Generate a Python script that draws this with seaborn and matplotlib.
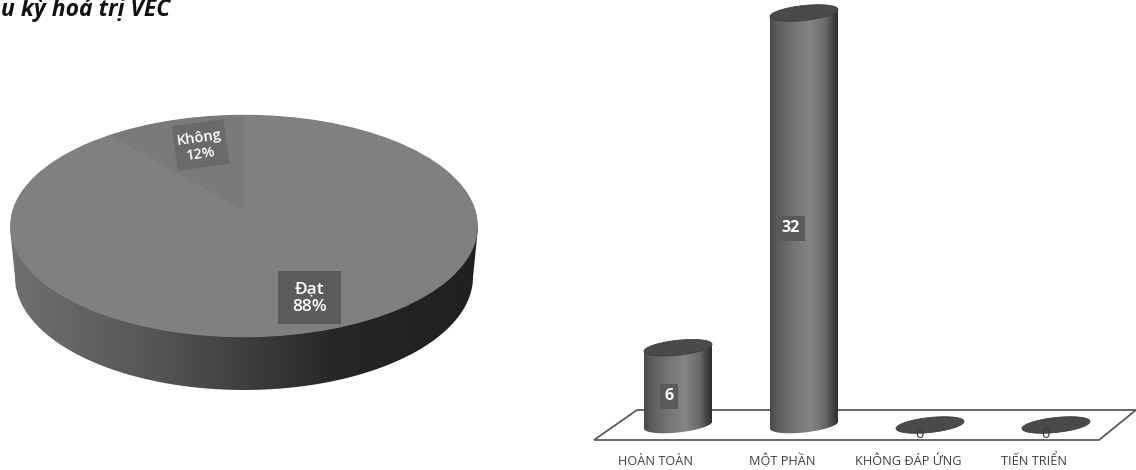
import numpy as np
import pandas as pd
import matplotlib
matplotlib.use("Agg")
import matplotlib.pyplot as plt
from matplotlib.colors import LinearSegmentedColormap
from matplotlib.patches import Polygon, Rectangle
from matplotlib.transforms import Affine2D, ScaledTranslation
import seaborn as sns

# Share of patients reaching the target
pie_labels = ["Đạt", "Không"]
pie_values = [88, 12]

# Response counts
response_labels = ["HOÀN TOÀN", "MỘT PHẦN", "KHÔNG ĐÁP ỨNG", "TIẾN TRIỂN"]
response_counts = [6, 32, 0, 0]

heading = "u kỳ hoá trị VEC"

W, H = 1136, 470
sns.set_theme(style="white")
plt.rcParams["font.family"] = ["Open Sans", "Noto Sans", "DejaVu Sans"]

fig = plt.figure(figsize=(W / 100, H / 100), dpi=100, facecolor="white")

# Full-figure pixel canvas for the heading and the floor plate
canvas = fig.add_axes([0, 0, 1, 1], zorder=0)
canvas.set_xlim(0, W)
canvas.set_ylim(H, 0)
canvas.axis("off")
canvas.text(1, 16.5, heading, fontsize=16.5, fontweight="bold", fontstyle="italic",
            color="#111111", ha="left", va="baseline")

floor = Polygon([(594, 440), (1099, 440), (1136, 410), (637, 410)], closed=True,
                facecolor="white", edgecolor="#5a5a5a", lw=1.3, clip_on=False)
canvas.add_patch(floor)


def axes_from_pixels(left, top, right, bottom, z):
    return fig.add_axes([left / W, 1 - bottom / H, (right - left) / W, (bottom - top) / H], zorder=z)


# ---- Pie drum -----------------------------------------------------------
wall_cmap = LinearSegmentedColormap.from_list(
    "wall", [(0, "#707072"), (0.3, "#565658"), (0.52, "#3c3c3e"), (0.7, "#262628"), (1, "#202022")])
t = np.linspace(0, np.pi, 200)
wall_pts = [(10, 228)] + [(244 - 229 * np.cos(a), 277 + 113 * np.sin(a)) for a in t] + [(478, 228)]
wall = Polygon(wall_pts, closed=True, facecolor="none", edgecolor="none", transform=canvas.transData)
canvas.add_patch(wall)
wall_img = canvas.imshow(np.linspace(0, 1, 256)[None, :], cmap=wall_cmap, aspect="auto",
                         extent=(10, 478, 395, 220), zorder=1)
wall_img.set_clip_path(wall)
canvas.set_xlim(0, W)
canvas.set_ylim(H, 0)

pie_ax = axes_from_pixels(10, 115, 478, 337, 1)
top_colour = "#808083"
wedges, _ = pie_ax.pie(pie_values, startangle=90, counterclock=False, radius=1,
                       colors=[top_colour, top_colour],
                       wedgeprops={"linewidth": 0.8, "edgecolor": top_colour})
pie_ax.set_aspect("auto")
pie_ax.set_xlim(-1.003, 1.003)
pie_ax.set_ylim(-1.003, 1.003)

# The minor slice is foreshortened by the tilted view, so its tip sits behind the disc centre
sweep = np.deg2rad(360 * pie_values[1] / sum(pie_values)) * 0.81
arc = np.linspace(0, sweep, 60)
slice_pts = [(0, 0.14)] + [(-np.sin(a), np.cos(a)) for a in arc]
pie_ax.add_patch(Polygon(slice_pts, closed=True, facecolor="#7a7a7d", edgecolor="none"))

# ---- Value tags on the pie ---------------------------------------------
canvas_top = axes_from_pixels(0, 0, W, H, 3)
canvas_top.set_xlim(0, W)
canvas_top.set_ylim(H, 0)
canvas_top.axis("off")
canvas_top.patch.set_alpha(0)

box = Rectangle((-26, -22.5), 52, 45, facecolor="#6a6a6c", edgecolor="none")
box.set_transform(Affine2D().rotate_deg(-8).translate(200.5, 145) + canvas_top.transData)
canvas_top.add_patch(box)
canvas_top.text(200, 146, f"{pie_labels[1]}\n{pie_values[1]}%", color="white", fontsize=10.5,
                fontweight="semibold", ha="center", va="center", rotation=8,
                rotation_mode="anchor", linespacing=1.2)
canvas_top.add_patch(Rectangle((278, 271), 63, 53, facecolor="#5c5c5e", edgecolor="none"))
canvas_top.text(309.5, 298, f"{pie_labels[0]}\n{pie_values[0]}%", color="white", fontsize=12.5,
                fontweight="semibold", ha="center", va="center", linespacing=1.1)

# ---- Cylinder columns ---------------------------------------------------
BASE_PX = 425
PX_PER_UNIT = 12.875
STEP_PX = 126
bar_ax = axes_from_pixels(615, 0, 1119, BASE_PX + 1.5 * PX_PER_UNIT, 2)
bar_ax.patch.set_alpha(0)

frame = pd.DataFrame({"response": response_labels, "count": response_counts})
sns.barplot(data=frame, x="response", y="count", color="#6a6a6c", width=68 / STEP_PX,
            saturation=1, ax=bar_ax)
xlim = (-0.5, len(response_labels) - 0.5)
ylim = (-1.5, BASE_PX / PX_PER_UNIT)
sns.despine(ax=bar_ax, left=True, bottom=True)
bar_ax.set_xlabel("")
bar_ax.set_ylabel("")
bar_ax.set_yticks([])

body_cmap = LinearSegmentedColormap.from_list(
    "body", [(0, "#4a4a4c"), (0.1, "#5c5c5e"), (0.35, "#747476"), (0.6, "#858588"),
             (0.82, "#69696b"), (0.95, "#3c3c3e"), (1, "#2e2e30")])

rx = 0.5 * 68 / STEP_PX
ry = 7.5 / PX_PER_UNIT
shear = 3.5 / PX_PER_UNIT   # ellipses rise slightly towards the right


def ring(cx, level, start=0.0, stop=2 * np.pi):
    a = np.linspace(start, stop, 120)
    return np.column_stack([cx + rx * np.cos(a), level + ry * np.sin(a) + shear * np.cos(a)])


bars = list(bar_ax.patches)
for patch, count in zip(bars, response_counts):
    cx = patch.get_x() + patch.get_width() / 2
    if count > 0:
        # rounded body: down the left side, round the front, back up the right side
        outline = np.vstack([ring(cx, count, np.pi, np.pi), ring(cx, 0, np.pi, 2 * np.pi),
                             ring(cx, count, 0, 0)])
        body = Polygon(outline, closed=True, facecolor="none", edgecolor="none",
                       transform=bar_ax.transData, zorder=3)
        bar_ax.add_patch(body)
        patch.set_clip_path(body)
        img = bar_ax.imshow(np.linspace(0, 1, 128)[None, :], cmap=body_cmap, aspect="auto",
                            extent=(cx - rx, cx + rx, -1.4, count + 1), zorder=3)
        img.set_clip_path(body)
    bar_ax.add_patch(Polygon(ring(cx, count), closed=True, facecolor="#4a4a4c",
                             edgecolor="#3e3e40", lw=0.6, zorder=4))

bar_ax.set_xlim(*xlim)
bar_ax.set_ylim(*ylim)

# Category names sit slightly left of their columns, below the front edge of the plate
bar_ax.set_xticks(range(len(response_labels)))
bar_ax.set_xticklabels(response_labels, fontsize=9.2, color="#404040", fontweight="medium")
bar_ax.tick_params(axis="x", length=0, pad=15)
shift = ScaledTranslation(-22 / 100, 0, fig.dpi_scale_trans)
for lab in bar_ax.get_xticklabels():
    lab.set_verticalalignment("baseline")
    lab.set_transform(lab.get_transform() + shift)

# Count tags
tag_offsets = {6: -9, 32: -13}
tag_heights = {6: 0.375, 32: 0.478}
for patch, count in zip(bars, response_counts):
    cx = patch.get_x() + patch.get_width() / 2
    if count > 0:
        cx_tag = cx + tag_offsets[count] / STEP_PX
        bar_ax.text(cx_tag, count * tag_heights[count], str(count), color="white", fontsize=11.5,
                    fontweight="bold", ha="center", va="center", zorder=6,
                    bbox=dict(facecolor="#5a5a5c", edgecolor="none",
                              boxstyle="square,pad=0.28"))
    else:
        bar_ax.text(cx - 11 / STEP_PX, -10 / PX_PER_UNIT, str(count), color="#3a3a3a",
                    fontsize=10.5, ha="center", va="center", zorder=6, clip_on=False)

fig.savefig("out.png", dpi=100, facecolor="white")
